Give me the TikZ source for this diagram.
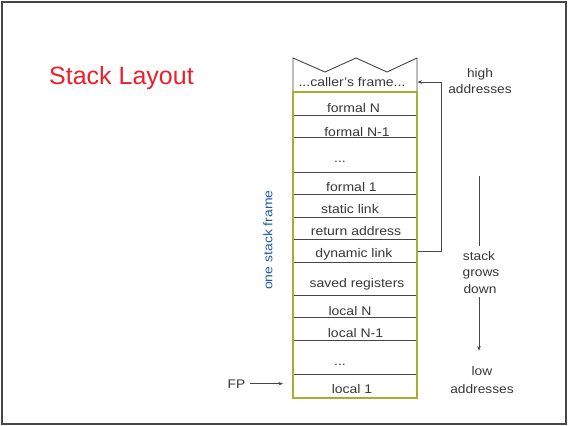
\documentclass[tikz,border=0pt]{standalone}
\usepackage{fontspec}
\setmainfont{Liberation Sans}
\usetikzlibrary{arrows.meta}

\definecolor{framegreen}{RGB}{166,174,50}
\definecolor{inkgray}{RGB}{55,55,55}
\definecolor{rulegray}{RGB}{70,70,70}
\definecolor{titlered}{RGB}{234,32,40}
\definecolor{frameblue}{RGB}{35,90,165}

\tikzset{
  cell/.style={draw=rulegray, line width=0.9pt, minimum width=124pt,
    minimum height=#1, inner sep=0pt, anchor=north west},
  cellnote/.style={text=inkgray, inner sep=0pt, anchor=base,
    font=\fontsize{12.5}{15}\selectfont},
  sidenote/.style={text=inkgray, inner sep=0pt, anchor=base,
    font=\fontsize{12.5}{15}\selectfont},
  wire/.style={draw=rulegray, line width=0.8pt},
  tip/.style={-{Stealth[length=4.5pt,width=3.5pt]}}
}
\newcommand{\stretchtxt}[1]{\scalebox{1.12}[1]{#1}}
\newcommand{\widetxt}[1]{\scalebox{1.1}[1]{#1}}

\begin{document}
\begin{tikzpicture}[x=1pt,y=-1pt]
\useasboundingbox (0,0) rectangle (568,426);
% slide border
\draw[rulegray, line width=2pt] (1.5,1.5) rectangle (566,424);

% title
\node[text=titlered, inner sep=0pt, anchor=base west,
      font=\fontsize{25}{30}\selectfont] (title) at (49,84) {Stack Layout};

% caller's frame, torn at the top
\draw[rulegray, line width=0.9pt] (293,92) -- (293,58) -- (325,72) -- (356,58)
  -- (387,72) -- (417,58) -- (417,92);
\coordinate (callerwall) at (417.5,82);
\node[cellnote] (caller) at (352,86) {\stretchtxt{...caller's frame...}};

% cells of one frame
\node[cell=23pt] (fN)   at (293,92)  {};
\node[cell=22pt] (fN1)  at (293,115) {};
\node[cell=35pt] (fdot) at (293,137) {};
\node[cell=22pt] (f1)   at (293,172) {};
\node[cell=23pt] (sl)   at (293,194) {};
\node[cell=22pt] (ra)   at (293,217) {};
\node[cell=23pt] (dl)   at (293,239) {};
\node[cell=33pt] (sr)   at (293,262) {};
\node[cell=22pt] (lN)   at (293,295) {};
\node[cell=23pt] (lN1)  at (293,317) {};
\node[cell=34pt] (ldot) at (293,340) {};
\node[cell=24pt] (l1)   at (293,374) {};

% cell texts
\node[cellnote] (tfN)   at (353.5,112) {\stretchtxt{formal N}};
\node[cellnote] (tfN1)  at (357,136)   {\stretchtxt{formal N-1}};
\node[cellnote] (tfdot) at (340,162)   {\stretchtxt{...}};
\node[cellnote] (tf1)   at (351.5,191) {\stretchtxt{formal 1}};
\node[cellnote] (tsl)   at (350,213)   {\stretchtxt{static link}};
\node[cellnote] (tra)   at (356,235)   {\stretchtxt{return address}};
\node[cellnote] (tdl)   at (354,257)   {\stretchtxt{dynamic link}};
\node[cellnote] (tsr)   at (357,287)   {\stretchtxt{saved registers}};
\node[cellnote] (tlN)   at (350,315)   {\stretchtxt{local N}};
\node[cellnote] (tlN1)  at (355.5,337) {\stretchtxt{local N-1}};
\node[cellnote] (tldot) at (340,365)   {\stretchtxt{...}};
\node[cellnote] (tl1)   at (352,393)   {\stretchtxt{local 1}};

% outline of one stack frame
\draw[framegreen, line width=2pt] (293,92) rectangle (417,398);

% dynamic link back to the caller's frame
\draw[wire, tip] (dl.east) -- ++(23,0) |- (callerwall);

% frame label
\node[text=frameblue, inner sep=0pt, rotate=90,
      font=\fontsize{12.5}{15}\selectfont] (onefr) at (268,240)
      {\stretchtxt{one stack frame}};

% frame pointer
\node[sidenote] (fp) at (236.5,388) {\widetxt{FP}};
\draw[wire, tip, shorten <=5pt, shorten >=10pt] (fp.east) -- (fp.east -| l1.west);

% address direction labels
\node[sidenote] (high)  at (480,77)  {\widetxt{high}};
\node[sidenote] (haddr) at (480,93)  {\widetxt{addresses}};
\node[sidenote] (stk)   at (479,260) {\widetxt{stack}};
\node[sidenote] (grows) at (481,276) {\widetxt{grows}};
\node[sidenote] (down)  at (480,293) {\widetxt{down}};
\node[sidenote] (low)   at (482,375) {\widetxt{low}};
\node[sidenote] (laddr) at (482,393) {\widetxt{addresses}};

\coordinate (growtop) at (479,176);
\draw[wire, shorten >=5pt] (growtop) -- (growtop |- stk.north);
\draw[wire, tip, shorten <=4pt, shorten >=15pt] (down.south -| growtop) -- (low.north -| growtop);
\end{tikzpicture}
\end{document}
